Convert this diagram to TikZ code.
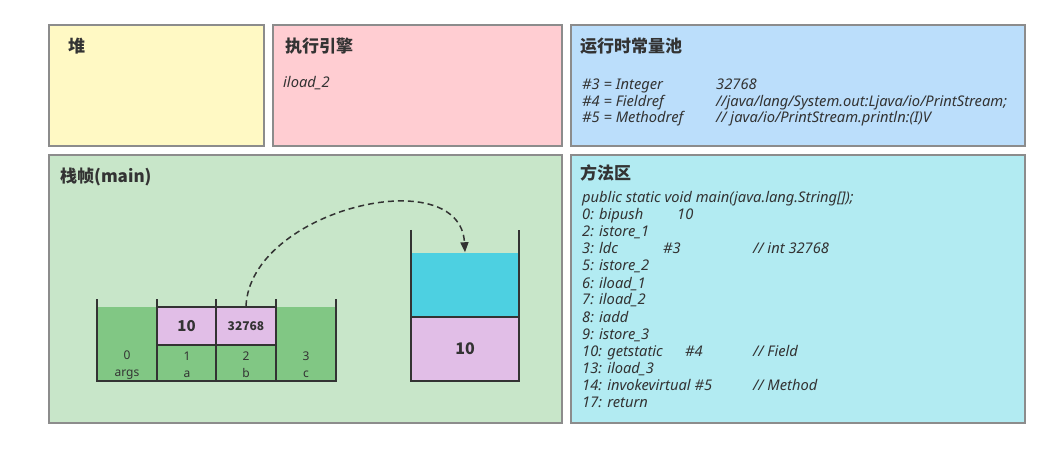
\documentclass[tikz,border=0pt]{standalone}
\usepackage{fontspec}
\setmainfont{Noto Sans}
\newfontfamily\cjkfont{Noto Sans CJK SC}
\usetikzlibrary{arrows.meta, positioning}

\definecolor{ink}{HTML}{333333}
\definecolor{boxgray}{HTML}{8C8C8C}
\definecolor{heapbg}{HTML}{FFF9C4}
\definecolor{enginebg}{HTML}{FFCDD2}
\definecolor{poolbg}{HTML}{BBDEFB}
\definecolor{framebg}{HTML}{C8E6C9}
\definecolor{methodbg}{HTML}{B2EBF2}
\definecolor{localgreen}{HTML}{81C784}
\definecolor{slotpurple}{HTML}{E1BEE7}
\definecolor{slotcyan}{HTML}{4DD0E1}

\begin{document}
\begin{tikzpicture}[x=1pt, y=-1pt,
  region/.style={draw=boxgray, line width=1.5pt, fill=#1},
  title/.style={anchor=west, inner sep=0pt, text=ink, font=\cjkfont\bfseries\fontsize{17}{20}\selectfont},
  code/.style={anchor=base west, inner sep=0pt, text=ink, font=\itshape\fontsize{14.7}{17}\selectfont},
  cell/.style={draw=ink, line width=1.5pt, fill=#1, inner sep=0pt, text=ink},
  wall/.style={draw=ink, line width=2pt},
  index/.style={align=center, inner sep=0pt, text=ink, font=\fontsize{12}{17}\selectfont},
  flow/.style={draw=ink, line width=1.5pt, dash pattern=on 6pt off 4pt, -{Triangle[length=10pt, width=8pt]}},
]
  \useasboundingbox (0,0) rectangle (1050,449);

  % regions
  \draw[region=heapbg] (49,25) rectangle (264,146);
  \draw[region=enginebg] (273,25) rectangle (562,146);
  \draw[region=poolbg] (571,25) rectangle (1025,146);
  \draw[region=framebg] (49,155) rectangle (562,423);
  \draw[region=methodbg] (571,155) rectangle (1025,423);

  \node[title] (heap) at (68,46) {堆};
  \node[title] (engine) at (285,46) {执行引擎};
  \node[title] (pool) at (580,46) {运行时常量池};
  \node[title] (frame) at (60,177) {栈帧(main)};
  \node[title] (method) at (580,173) {方法区};

  \node[code] (curop) at (283,88) {iload\_2};

  % constant pool
  \foreach \y/\k/\v [count=\n] in {90/{\#3 = Integer}/{32768},
      107/{\#4 = Fieldref}/{//java/lang/System.out:Ljava/io/PrintStream;},
      123/{\#5 = Methodref}/{// java/io/PrintStream.println:(I)V}} {
    \node[code] (pk\n) at (582,\y) {\k};
    \node[code] (pv\n) at (716,\y) {\v};
  }

  % bytecode
  \foreach \l [count=\n from 0] in {{public static void main(java.lang.String[]);},
      {0: bipush}, {2: istore\_1}, {3: ldc}, {5: istore\_2}, {6: iload\_1},
      {7: iload\_2}, {8: iadd}, {9: istore\_3}, {10: getstatic},
      {13: iload\_3}, {14: invokevirtual \#5}, {17: return}} {
    \node[code] (bc\n) at (582,203+17*\n) {\l};
  }
  \node[code] (arg1) at (677,220) {10};
  \node[code] (arg3) at (663,254) {\#3};
  \node[code] (arg10) at (685,356) {\#4};
  \node[code] (cm3) at (753,254) {// int 32768};
  \node[code] (cm10) at (753,356) {// Field};
  \node[code] (cm14) at (753,390) {// Method};

  % local variable table
  \fill[localgreen] (97,307) rectangle (336,381);
  \node[cell=slotpurple, minimum width=59pt, minimum height=38pt,
        font=\cjkfont\bfseries\fontsize{15}{18}\selectfont] (va) at (186.5,326) {10};
  \node[cell=slotpurple, minimum width=60pt, minimum height=38pt,
        font=\cjkfont\bfseries\fontsize{12}{14}\selectfont] (vb) at (246,326) {32768};
  \draw[wall] (97,299) -- (97,381) -- (336,381) -- (336,299);
  \foreach \x in {157,216,276} {
    \draw[wall] (\x,299) -- (\x,381);
  }
  \foreach \x/\i/\v in {127/0/args, 187/1/a, 246/2/b, 306/3/c} {
    \node[index] (slot\i) at (\x,365) {\i\\\v};
  }

  % operand stack
  \node[cell=slotcyan, draw=none, minimum width=108pt, minimum height=64pt] (stacktop) at (465,285) {};
  \node[cell=slotpurple, minimum width=108pt, minimum height=64pt,
        font=\cjkfont\bfseries\fontsize{16}{19}\selectfont] (stackbot) at (465,349) {10};
  \draw[wall] (411,230) -- (411,381) -- (519,381) -- (519,230);

  \draw[flow] (vb.north) .. controls (250,210) and (460,160) .. (stacktop.north);
\end{tikzpicture}
\end{document}
